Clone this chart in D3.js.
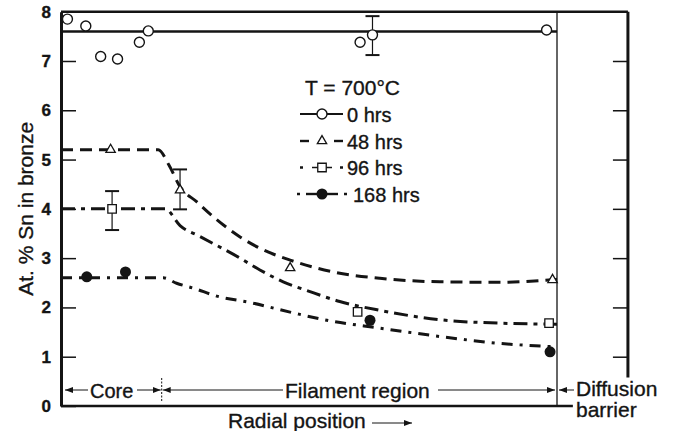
<!DOCTYPE html>
<html>
<head>
<meta charset="utf-8">
<script src="https://cdn.jsdelivr.net/npm/d3@7"></script>
<style>
body { margin: 0; background: #fff; }
svg { display: block; font-family: "Liberation Sans", Arial, sans-serif; }
svg text { stroke: #141414; stroke-width: 0.35px; }
</style>
</head>
<body>
<svg width="674" height="431"></svg>
<script>
// radial position: 0 = centre of core, 100 = diffusion barrier (no numeric scale in the original)
var seriesNames = ["0 hrs", "48 hrs", "96 hrs", "168 hrs"];
var yTicks = [0, 1, 2, 3, 4, 5, 6, 7, 8];

// measured points
var pos0 = [1.3, 5.0, 8.0, 11.4, 15.8, 17.6, 60.3, 62.8, 97.9];
var val0 = [7.85, 7.71, 7.09, 7.04, 7.38, 7.61, 7.38, 7.53, 7.63];
var pos48 = [10.0, 24.0, 46.2, 99.1];
var val48 = [5.2, 4.38, 2.80, 2.56];
var pos96 = [10.3, 59.8, 98.4];
var val96 = [4.0, 1.91, 1.68];
var pos168 = [5.2, 13.0, 62.3, 98.6];
var val168 = [2.62, 2.72, 1.74, 1.10];

// error bars
var errPos = [62.8, 24.0, 10.3];
var errLow = [7.12, 3.99, 3.57];
var errHigh = [7.91, 4.80, 4.36];

// fitted profiles
var fitPos0 = [0, 100];
var fitVal0 = [7.6, 7.6];
var fitPos48 = [0, 19.6, 21.7, 24, 27.4, 30.7, 36.1, 40.1, 46.2, 54.9, 64.3, 76.4, 88.5, 100];
var fitVal48 = [5.2, 5.2, 4.9, 4.45, 4.14, 3.84, 3.43, 3.2, 2.96, 2.72, 2.59, 2.52, 2.51, 2.57];
var fitPos96 = [0, 21, 24, 28, 36.1, 40.1, 44.8, 50.2, 56.2, 64.3, 76.4, 88.5, 100];
var fitVal96 = [4.0, 4.0, 3.66, 3.44, 3.0, 2.76, 2.52, 2.32, 2.12, 1.94, 1.75, 1.68, 1.66];
var fitPos168 = [0, 20.6, 23.3, 26.7, 31.4, 38.1, 46.8, 53.6, 64.3, 76.4, 88.5, 100];
var fitVal168 = [2.6, 2.6, 2.49, 2.39, 2.23, 2.1, 1.89, 1.74, 1.58, 1.41, 1.27, 1.2];

var ink = "#141414";
var dashes = [null, "12,7", "14,6,4,6", "11,7,3,7"];

var svg = d3.select("svg");

var x = d3.scaleLinear().domain([0, 100]).range([61, 557]),
    y = d3.scaleLinear().domain([0, 8]).range([406, 11.7]);

var defs = svg.append("defs");
defs.append("marker")
    .attr("id", "arr")
    .attr("viewBox", "0 0 8 6")
    .attr("refX", 8).attr("refY", 3)
    .attr("markerWidth", 8).attr("markerHeight", 6)
    .attr("markerUnits", "userSpaceOnUse")
    .attr("orient", "auto")
  .append("path")
    .attr("d", "M0,0L8,3L0,6Z")
    .attr("fill", ink);

// frame
var xRight = 114.3;
svg.append("line")
    .attr("x1", x(0)).attr("x2", x(xRight))
    .attr("y1", y(8)).attr("y2", y(8))
    .attr("stroke", ink).attr("stroke-width", 2.5);

svg.append("line")
    .attr("x1", x(0)).attr("x2", x(103.2))
    .attr("y1", y(0)).attr("y2", y(0))
    .attr("stroke", ink).attr("stroke-width", 2.5);

// diffusion barrier
svg.append("line")
    .attr("x1", x(100)).attr("x2", x(100))
    .attr("y1", y(8)).attr("y2", y(0))
    .attr("stroke", ink).attr("stroke-width", 1.3);

var yLeft = svg.append("g")
    .attr("transform", "translate(" + x(0) + ",0)")
    .call(d3.axisLeft(y).tickValues(yTicks).tickSizeInner(-15).tickSizeOuter(0).tickPadding(10));
yLeft.select(".domain").attr("stroke", ink).attr("stroke-width", 3);
yLeft.selectAll(".tick line").attr("stroke", ink).attr("stroke-width", 1.5);
yLeft.selectAll(".tick text")
    .attr("fill", ink)
    .style("font-size", "17px")
    .style("font-weight", "bold")
    .style("font-family", "'Liberation Sans', Arial, sans-serif");

var yRight = svg.append("g")
    .attr("transform", "translate(" + x(xRight) + ",0)")
    .call(d3.axisRight(y).tickValues([1, 2, 3, 4, 5, 6, 7]).tickSizeInner(-15).tickSizeOuter(0).tickFormat(""));
yRight.select(".domain").remove();
yRight.selectAll(".tick line").attr("stroke", ink).attr("stroke-width", 1.5);
yRight.append("line")
    .attr("x1", 0).attr("x2", 0)
    .attr("y1", y(8)).attr("y2", y(0.58))
    .attr("stroke", ink).attr("stroke-width", 3);

svg.append("text")
    .attr("transform", "translate(33," + y(4) + ") rotate(-90)")
    .attr("text-anchor", "middle")
    .attr("fill", ink)
    .style("font-size", "21px")
    .text("At. % Sn in bronze");

// fitted curves
var line = d3.line()
    .curve(d3.curveMonotoneX)
    .x(function(d) { return x(d[0]); })
    .y(function(d) { return y(d[1]); });

var fits = [d3.zip(fitPos0, fitVal0), d3.zip(fitPos48, fitVal48), d3.zip(fitPos96, fitVal96), d3.zip(fitPos168, fitVal168)];

svg.selectAll(".fit")
    .data(fits)
  .enter().append("path")
    .attr("class", "fit")
    .attr("d", line)
    .attr("fill", "none")
    .attr("stroke", ink)
    .attr("stroke-width", function(d, i) { return i == 0 ? 2.5 : 3; })
    .attr("stroke-dasharray", function(d, i) { return dashes[i]; });

// error bars
var eb = svg.selectAll(".err")
    .data(d3.range(errPos.length))
  .enter().append("g")
    .attr("class", "err");
eb.append("line")
    .attr("x1", function(i) { return x(errPos[i]); })
    .attr("x2", function(i) { return x(errPos[i]); })
    .attr("y1", function(i) { return y(errLow[i]); })
    .attr("y2", function(i) { return y(errHigh[i]); })
    .attr("stroke", ink).attr("stroke-width", 1.2);
eb.selectAll(".cap")
    .data(function(i) { return [[errPos[i], errLow[i]], [errPos[i], errHigh[i]]]; })
  .enter().append("line")
    .attr("x1", function(d) { return x(d[0]) - 7; })
    .attr("x2", function(d) { return x(d[0]) + 7; })
    .attr("y1", function(d) { return y(d[1]); })
    .attr("y2", function(d) { return y(d[1]); })
    .attr("stroke", ink).attr("stroke-width", 2);

// markers
function drawMarker(sel, kind) {
  if (kind == 0) {
    sel.append("circle").attr("r", 5).attr("fill", "#fff").attr("stroke", ink).attr("stroke-width", 1.4);
  } else if (kind == 1) {
    sel.append("path").attr("d", d3.symbol(d3.symbolTriangle, 38)()).attr("fill", "#fff").attr("stroke", ink).attr("stroke-width", 1.3);
  } else if (kind == 2) {
    sel.append("path").attr("d", d3.symbol(d3.symbolSquare, 72)()).attr("fill", "#fff").attr("stroke", ink).attr("stroke-width", 1.3);
  } else {
    sel.append("circle").attr("r", 5.5).attr("fill", ink);
  }
}

var pts = [d3.zip(pos0, val0), d3.zip(pos48, val48), d3.zip(pos96, val96), d3.zip(pos168, val168)];
pts.forEach(function(p, k) {
  svg.selectAll(".pt" + k)
      .data(p)
    .enter().append("g")
      .attr("class", "pt" + k)
      .attr("transform", function(d) { return "translate(" + x(d[0]) + "," + y(d[1]) + ")"; })
      .each(function() { drawMarker(d3.select(this), k); });
});

// legend
var lg = svg.append("g").attr("transform", "translate(300,0)");
lg.append("text")
    .attr("x", 5).attr("y", 95)
    .attr("fill", ink)
    .style("font-size", "21px")
    .text("T = 700\u00B0C");

var legY = [114, 141, 167.5, 194];
seriesNames.forEach(function(name, k) {
  var row = lg.append("g").attr("transform", "translate(0," + legY[k] + ")");
  if (k == 0) {
    row.append("line").attr("x1", 0).attr("x2", 43).attr("stroke", ink).attr("stroke-width", 2.2);
  } else if (k == 1) {
    row.append("line").attr("x1", 0).attr("x2", 9).attr("stroke", ink).attr("stroke-width", 2.4);
    row.append("line").attr("x1", 34).attr("x2", 43).attr("stroke", ink).attr("stroke-width", 2.4);
  } else if (k == 2) {
    row.append("line").attr("x1", 0).attr("x2", 3).attr("stroke", ink).attr("stroke-width", 2.5);
    row.append("line").attr("x1", 12).attr("x2", 32).attr("stroke", ink).attr("stroke-width", 1.5);
    row.append("line").attr("x1", 40).attr("x2", 43).attr("stroke", ink).attr("stroke-width", 2.5);
  } else {
    row.append("line").attr("x1", -3).attr("x2", 0).attr("stroke", ink).attr("stroke-width", 2.5);
    row.append("line").attr("x1", 6).attr("x2", 38).attr("stroke", ink).attr("stroke-width", 2.4);
    row.append("line").attr("x1", 44).attr("x2", 47).attr("stroke", ink).attr("stroke-width", 2.5);
  }
  var m = row.append("g").attr("transform", "translate(22,0)");
  drawMarker(m, k);
  row.append("text")
      .attr("x", k == 3 ? 53 : 47).attr("y", 7.5)
      .attr("fill", ink)
      .style("font-size", "20px")
      .text(name);
});

// region annotations along the bottom
var ay = 390;
function arrow(x1, x2) {
  svg.append("line")
      .attr("x1", x1).attr("x2", x2)
      .attr("y1", ay).attr("y2", ay)
      .attr("stroke", ink).attr("stroke-width", 1)
      .attr("marker-end", "url(#arr)");
}
var coreEdge = x(20.3);
arrow(88, x(0) + 4);
arrow(137, coreEdge - 1);
arrow(283, coreEdge + 1);
arrow(438, x(100) - 2);
arrow(574, x(100) + 2);
svg.append("line")
    .attr("x1", coreEdge).attr("x2", coreEdge)
    .attr("y1", 378).attr("y2", 401)
    .attr("stroke", ink).attr("stroke-width", 1)
    .attr("stroke-dasharray", "2,1.5");

svg.append("text").attr("x", 90).attr("y", 397.5).attr("fill", ink).style("font-size", "20px").text("Core");
svg.append("text").attr("x", 285).attr("y", 397.5).attr("fill", ink).style("font-size", "21px").text("Filament region");
svg.append("text").attr("x", 576).attr("y", 396).attr("fill", ink).style("font-size", "21px").text("Diffusion");
svg.append("text").attr("x", 576).attr("y", 417).attr("fill", ink).style("font-size", "21px").text("barrier");

svg.append("text").attr("x", 228).attr("y", 428).attr("fill", ink).style("font-size", "21px").text("Radial position");
svg.append("line")
    .attr("x1", 372).attr("x2", 412)
    .attr("y1", 423).attr("y2", 423)
    .attr("stroke", ink).attr("stroke-width", 1)
    .attr("marker-end", "url(#arr)");
</script>
</body>
</html>
